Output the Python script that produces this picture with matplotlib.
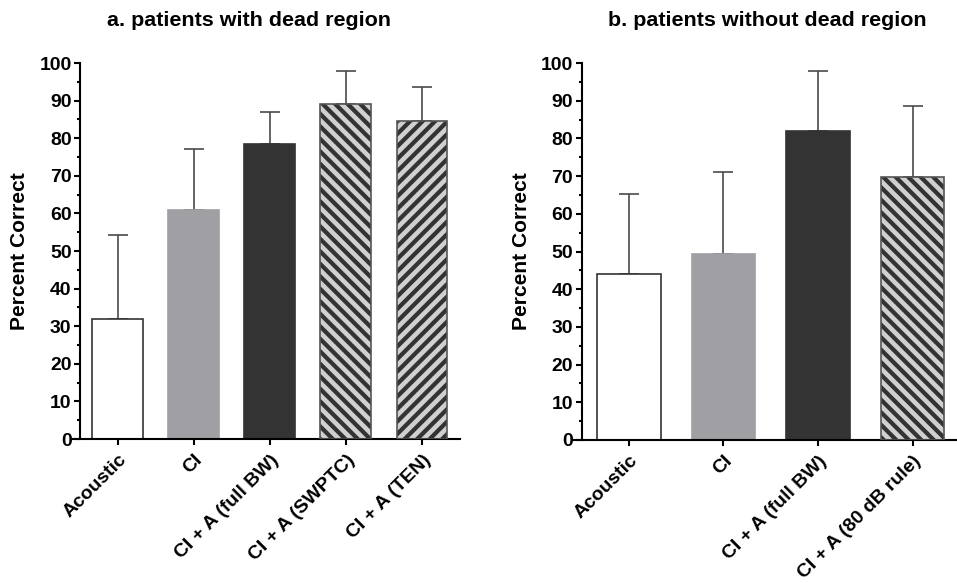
import numpy as np
import matplotlib
matplotlib.use("Agg")
import matplotlib.pyplot as plt
from matplotlib.ticker import MultipleLocator

plt.rcParams['font.family'] = ['Liberation Sans', 'DejaVu Sans']
plt.rcParams['font.weight'] = 'bold'
plt.rcParams['hatch.linewidth'] = 2.2

# panel a: patients with dead region
labels_a = ["Acoustic", "CI", "CI + A (full BW)", "CI + A (SWPTC)", "CI + A (TEN)"]
means_a = [32.0, 60.8, 78.5, 89.0, 84.5]
upper_a = [54.2, 77.0, 87.0, 98.0, 93.5]

# panel b: patients without dead region
labels_b = ["Acoustic", "CI", "CI + A (full BW)", "CI + A (80 dB rule)"]
means_b = [44.0, 49.4, 82.0, 69.8]
upper_b = [65.3, 71.2, 98.0, 88.6]

DARK = "#333333"
GRAY = "#a0a0a4"
STRIPE = "#d0d0d0"

# style per bar: (facecolor, hatch)
styles_a = [("white", None), (GRAY, None), (DARK, None), (DARK, "\\\\\\\\"), (DARK, "////")]
styles_b = [("white", None), (GRAY, None), (DARK, None), (DARK, "\\\\\\\\")]

DPI = 150
fig = plt.figure(figsize=(957 / DPI, 583 / DPI), dpi=DPI)

ax_a = fig.add_axes([73 / 957, 1 - 439 / 583, 387 / 957, 376 / 583])
ax_b = fig.add_axes([573 / 957, 1 - 440 / 583, 387 / 957, 377 / 583])


def draw_panel(ax, labels, means, upper, styles, xmax):
    x = np.arange(len(labels))
    w = 0.67
    for xi, m, (fc, hatch) in zip(x, means, styles):
        if hatch:
            ax.bar(xi, m, w, color=fc, edgecolor=STRIPE, hatch=hatch, linewidth=0, zorder=2)
            ax.bar(xi, m, w, fill=False, edgecolor="#555555", linewidth=0.8, zorder=3)
        else:
            ec = DARK if fc == "white" else fc
            ax.bar(xi, m, w, color=fc, edgecolor=ec, linewidth=0.8, zorder=2)
    err = np.array(upper) - np.array(means)
    ax.errorbar(x, means, yerr=[np.zeros_like(err), err], fmt="none",
                ecolor="#4a4a4a", elinewidth=0.8, capsize=4.6, capthick=0.8, zorder=1)

    ax.set_xlim(-0.59, xmax)
    ax.set_ylim(0, 100)
    ax.spines["left"].set_position(("data", -0.5))
    ax.spines["left"].set_bounds(0, 100)
    ax.spines["top"].set_visible(False)
    ax.spines["right"].set_visible(False)
    for s in ("left", "bottom"):
        ax.spines[s].set_linewidth(1.0)
        ax.spines[s].set_color("black")
    ax.yaxis.set_major_locator(MultipleLocator(10))
    ax.yaxis.set_minor_locator(MultipleLocator(5))
    ax.tick_params(axis="y", which="major", length=3, width=1.0, labelsize=9.3, pad=1)
    ax.tick_params(axis="y", which="minor", length=1.6, width=1.0)
    ax.set_xticks(x)
    ax.set_xticklabels(labels, rotation=45, ha="right", rotation_mode="anchor",
                       fontsize=9.3, fontweight="bold")
    ax.tick_params(axis="x", length=3, width=1.0, pad=3)
    for lab in ax.get_yticklabels():
        lab.set_fontweight("bold")
    ax.set_ylabel("Percent Correct", fontsize=10.1, fontweight="bold", labelpad=5)


draw_panel(ax_a, labels_a, means_a, upper_a, styles_a, 4.5)
draw_panel(ax_b, labels_b, means_b, upper_b, styles_b, 3.5)

fig.text(249 / 957, 1 - 20 / 583, "a. patients with dead region", ha="center", va="center",
         fontsize=10.3, fontweight="bold")
fig.text(767 / 957, 1 - 20 / 583, "b. patients without dead region", ha="center", va="center",
         fontsize=10.3, fontweight="bold")

fig.savefig("out.png", dpi=DPI)
